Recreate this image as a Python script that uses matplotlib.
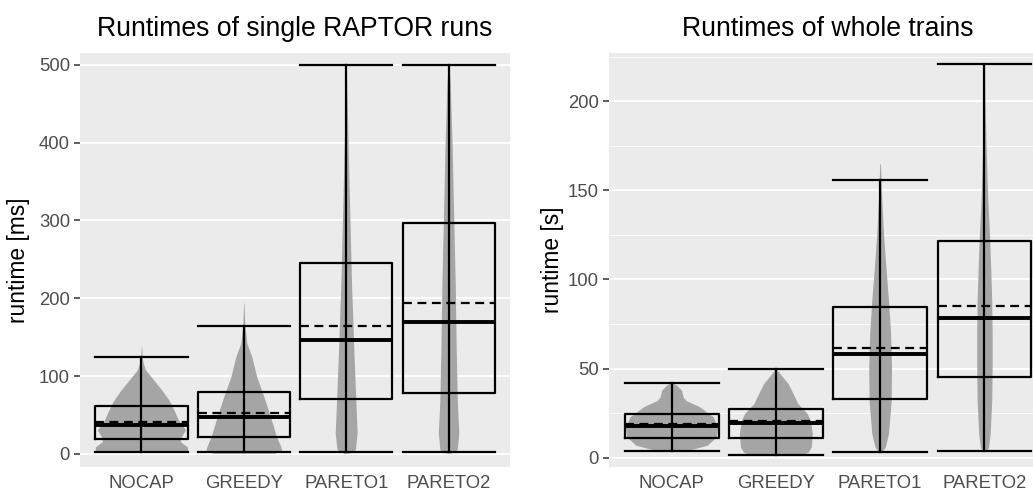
import matplotlib
matplotlib.use('Agg')
import matplotlib.pyplot as plt

plt.rcParams['font.family'] = ['Liberation Sans', 'DejaVu Sans']

categories = ['NOCAP', 'GREEDY', 'PARETO1', 'PARETO2']

# single RAPTOR runs [ms]
ms_lo = [2, 2, 2, 2]
ms_q1 = [19, 22, 71, 78]
ms_median = [37, 47, 146, 170]
ms_mean = [41, 53, 165, 194]
ms_q3 = [62, 80, 245, 297]
ms_hi = [125, 165, 500, 500]

# violin outlines: values and half widths (in category units)
ms_violin_y = [
    [2, 9, 16, 22, 31, 44, 56, 69, 82, 95, 108, 118, 127, 138],
    [1, 5, 10, 22, 48, 74, 99, 125, 142, 165, 194],
    [1, 3, 6, 27, 69, 133, 219, 305, 390, 476, 500],
    [1, 3, 6, 27, 69, 133, 219, 305, 390, 476, 500],
]
ms_violin_w = [
    [0.45, 0.45, 0.38, 0.39, 0.43, 0.36, 0.32, 0.27, 0.20, 0.12, 0.04, 0.015, 0.006, 0.002],
    [0.30, 0.37, 0.36, 0.32, 0.26, 0.195, 0.127, 0.078, 0.03, 0.01, 0.002],
    [0.02, 0.06, 0.09, 0.107, 0.094, 0.075, 0.052, 0.036, 0.02, 0.005, 0.002],
    [0.02, 0.06, 0.085, 0.10, 0.085, 0.075, 0.065, 0.05, 0.036, 0.016, 0.004],
]

# whole trains [s]
s_lo = [3.5, 1.7, 3.2, 3.5]
s_q1 = [11.2, 11, 32.8, 45.3]
s_median = [18, 19.5, 58, 78.5]
s_mean = [19, 20.8, 61.6, 85]
s_q3 = [24.4, 27.3, 84.5, 121.8]
s_hi = [42, 50, 155.8, 221]

s_violin_y = [
    [4, 5.5, 6.9, 11.6, 17, 22.8, 28.5, 32, 34, 37.8, 40.6, 41.5, 42],
    [1.7, 3, 6, 13.5, 21, 24.7, 30.4, 36, 41.6, 46, 50],
    [3.5, 6, 13.5, 32, 51, 70, 88.5, 107, 126, 145, 165],
    [3.5, 6, 13.5, 32, 51, 70, 88.5, 107, 126, 145, 163.5, 182, 201, 221],
]
s_violin_w = [
    [0.15, 0.25, 0.34, 0.43, 0.44, 0.40, 0.27, 0.14, 0.11, 0.096, 0.05, 0.02, 0.002],
    [0.25, 0.31, 0.34, 0.35, 0.33, 0.30, 0.21, 0.165, 0.117, 0.055, 0.002],
    [0.02, 0.05, 0.08, 0.106, 0.109, 0.10, 0.08, 0.055, 0.032, 0.016, 0.003],
    [0.02, 0.04, 0.055, 0.07, 0.074, 0.074, 0.07, 0.06, 0.048, 0.032, 0.022, 0.013, 0.005, 0.002],
]


def draw_panel(ax, lo, q1, med, mean, q3, hi, vy, vw, title, ylabel):
    ax.set_facecolor('#EBEBEB')
    for side in ax.spines.values():
        side.set_visible(False)
    ax.set_axisbelow(True)

    half = 0.45
    for i in range(len(categories)):
        x = i + 1
        left = [x - w for w in vw[i]]
        right = [x + w for w in vw[i]]
        ax.fill_betweenx(vy[i], left, right, color='#A5A5A5', lw=0, zorder=2)
        # whisker with caps
        ax.plot([x, x], [lo[i], hi[i]], color='black', lw=1.6, zorder=3)
        ax.plot([x - half, x + half], [lo[i], lo[i]], color='black', lw=1.6, zorder=3)
        ax.plot([x - half, x + half], [hi[i], hi[i]], color='black', lw=1.6, zorder=3)
        # box (no fill)
        ax.plot([x - half, x + half, x + half, x - half, x - half],
                [q1[i], q1[i], q3[i], q3[i], q1[i]], color='black', lw=1.6, zorder=3)
        ax.plot([x - half, x + half], [med[i], med[i]], color='black', lw=2.8,
                solid_capstyle='butt', zorder=4)
        ax.plot([x - half, x + half], [mean[i], mean[i]], color='black', lw=1.6,
                dashes=(4, 2.5), zorder=4)

    ax.set_xlim(0.4, 4.6)
    ax.set_xticks(range(1, len(categories) + 1))
    ax.set_xticklabels(categories)
    ax.tick_params(axis='x', length=0, pad=6, labelsize=13.3, labelcolor='#4D4D4D')
    ax.tick_params(axis='y', length=4.3, width=1.1, color='#333333', pad=3,
                   labelsize=13.3, labelcolor='#4D4D4D')
    ax.grid(True, axis='y', which='major', color='white', lw=1.3)
    ax.grid(True, axis='y', which='minor', color='white', lw=0.6)
    ax.grid(False, axis='x')
    ax.set_title(title, fontsize=19.2, pad=12.5)
    ax.set_ylabel(ylabel, fontsize=16.4, labelpad=6)


fig = plt.figure(figsize=(10.33, 4.92), dpi=100)

ax1 = fig.add_axes([80 / 1033, 25 / 492, 430 / 1033, 414 / 492])
draw_panel(ax1, ms_lo, ms_q1, ms_median, ms_mean, ms_q3, ms_hi,
           ms_violin_y, ms_violin_w, 'Runtimes of single RAPTOR runs', 'runtime [ms]')
ax1.set_ylim(-16.7, 515)
ax1.set_yticks([0, 100, 200, 300, 400, 500])

# the right panel runs slightly past the right edge of the picture
ax2 = fig.add_axes([609 / 1033, 25 / 492, 438 / 1033, 414 / 492])
draw_panel(ax2, s_lo, s_q1, s_median, s_mean, s_q3, s_hi,
           s_violin_y, s_violin_w, 'Runtimes of whole trains', 'runtime [s]')
ax2.set_ylim(-5.3, 227.2)
ax2.set_yticks([0, 50, 100, 150, 200])
ax2.set_yticks([25, 75, 125, 175, 225], minor=True)
ax2.tick_params(axis='y', which='minor', length=0)
ax2.yaxis.labelpad = 3

fig.savefig('out.png', dpi=100)
